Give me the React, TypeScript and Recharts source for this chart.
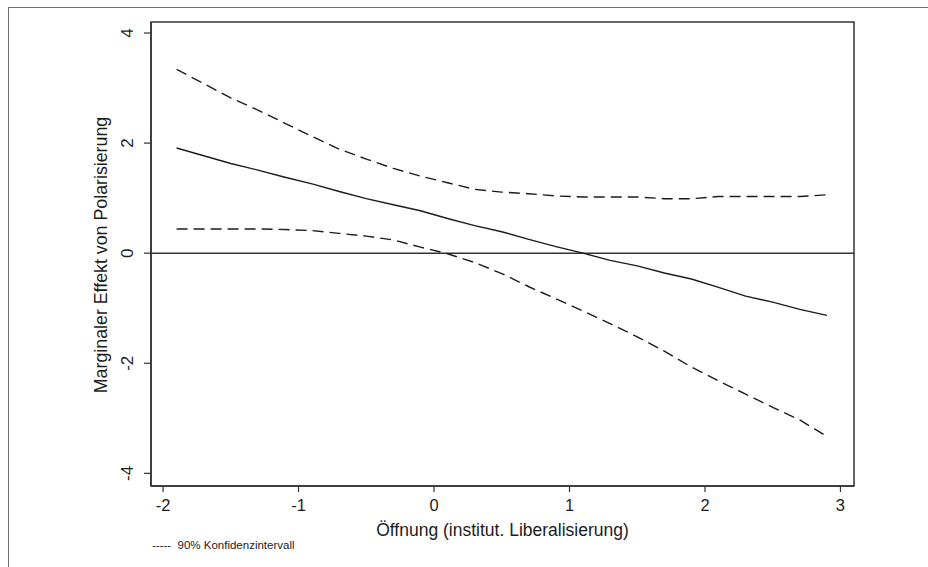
import { LineChart, Line, XAxis, YAxis, ReferenceLine, ReferenceArea } from 'recharts'

const xValues = [-1.9, -1.7, -1.5, -1.3, -1.1, -0.9, -0.7, -0.5, -0.3, -0.1, 0.1, 0.3, 0.5, 0.7, 0.9, 1.1, 1.3, 1.5, 1.7, 1.9, 2.1, 2.3, 2.5, 2.7, 2.9]
const effect = [1.91, 1.77, 1.63, 1.51, 1.38, 1.26, 1.12, 0.99, 0.88, 0.77, 0.63, 0.5, 0.39, 0.25, 0.12, 0.0, -0.13, -0.23, -0.36, -0.47, -0.62, -0.78, -0.89, -1.02, -1.13]
const upper = [3.34, 3.08, 2.82, 2.6, 2.36, 2.12, 1.89, 1.71, 1.54, 1.4, 1.28, 1.16, 1.11, 1.08, 1.04, 1.02, 1.02, 1.02, 0.99, 0.99, 1.03, 1.03, 1.03, 1.03, 1.06]
const lower = [0.44, 0.44, 0.44, 0.44, 0.43, 0.41, 0.36, 0.31, 0.24, 0.11, -0.01, -0.17, -0.37, -0.61, -0.83, -1.05, -1.28, -1.52, -1.78, -2.07, -2.32, -2.56, -2.8, -3.03, -3.33]
const xTicks = [-2, -1, 0, 1, 2, 3]
const yTicks = [-4, -2, 0, 2, 4]

const X_DOMAIN: [number, number] = [-2.089, 3.1]
const Y_DOMAIN: [number, number] = [-4.23, 4.2]

const data = xValues.map((x, i) => ({ x, effect: effect[i], upper: upper[i], lower: lower[i] }))

const FONT = '"Liberation Sans", Arial, sans-serif'
const INK = '#1c1c1c'
const AXIS = '#333'

function YTick(props: any) {
  const { x, y, payload } = props
  return (
    <g transform={`translate(${x},${y})`}>
      <text transform="rotate(-90)" textAnchor="middle" fontSize={17} fontFamily={FONT} fill={INK}>
        {payload.value}
      </text>
    </g>
  )
}

function XTick(props: any) {
  const { x, y, payload } = props
  return (
    <text x={x} y={y} dy="0.71em" textAnchor="middle" fontSize={16.5} fontFamily={FONT} fill={INK}>
      {payload.value}
    </text>
  )
}

export default function App() {
  return (
    <div style={{ position: 'absolute', left: 0, top: 0, width: 928, height: 567, background: '#fff', overflow: 'hidden' }}>
      <div style={{ position: 'absolute', left: 8, top: 7, width: 940, height: 580, borderLeft: '1.5px solid #6f6f6f', borderTop: '1.5px solid #6f6f6f' }} />
      <LineChart width={928} height={567} data={data} margin={{ top: 22, right: 74, bottom: 0, left: 0 }}>
        <XAxis
          dataKey="x"
          type="number"
          domain={X_DOMAIN}
          ticks={xTicks}
          allowDataOverflow
          height={81}
          tickSize={6}
          tickMargin={7}
          tick={<XTick />}
          axisLine={{ stroke: AXIS, strokeWidth: 1.5 }}
          tickLine={{ stroke: AXIS, strokeWidth: 1.2 }}
          label={(p: any) => {
            const vb = p.viewBox
            return (
              <text x={vb.x + vb.width / 2} y={536} textAnchor="middle" fontSize={17.5} fontFamily={FONT} fill={INK}>
                Öffnung (institut. Liberalisierung)
              </text>
            )
          }}
        />
        <YAxis
          type="number"
          domain={Y_DOMAIN}
          ticks={yTicks}
          allowDataOverflow
          width={151}
          tickSize={7}
          tickMargin={11}
          tick={<YTick />}
          axisLine={{ stroke: AXIS, strokeWidth: 1.5 }}
          tickLine={{ stroke: AXIS, strokeWidth: 1.2 }}
          label={() => (
            <text transform="translate(107,255) rotate(-90)" textAnchor="middle" fontSize={17.8} fontFamily={FONT} fill={INK}>
              Marginaler Effekt von Polarisierung
            </text>
          )}
        />
        <ReferenceArea x1={X_DOMAIN[0]} x2={X_DOMAIN[1]} y1={Y_DOMAIN[0]} y2={Y_DOMAIN[1]} fill="none" fillOpacity={0} stroke={AXIS} strokeWidth={1.5} />
        <ReferenceLine y={0} stroke={AXIS} strokeWidth={1.5} />
        <Line type="linear" dataKey="upper" stroke={INK} strokeWidth={1.4} strokeDasharray="11 6" dot={false} isAnimationActive={false} />
        <Line type="linear" dataKey="effect" stroke={INK} strokeWidth={1.4} dot={false} isAnimationActive={false} />
        <Line type="linear" dataKey="lower" stroke={INK} strokeWidth={1.4} strokeDasharray="11 6" dot={false} isAnimationActive={false} />
      </LineChart>
      <div style={{ position: 'absolute', left: 152, top: 539, fontSize: 11.5, fontFamily: FONT, color: INK, whiteSpace: 'pre' }}>
        {'-----  90% Konfidenzintervall'}
      </div>
    </div>
  )
}
